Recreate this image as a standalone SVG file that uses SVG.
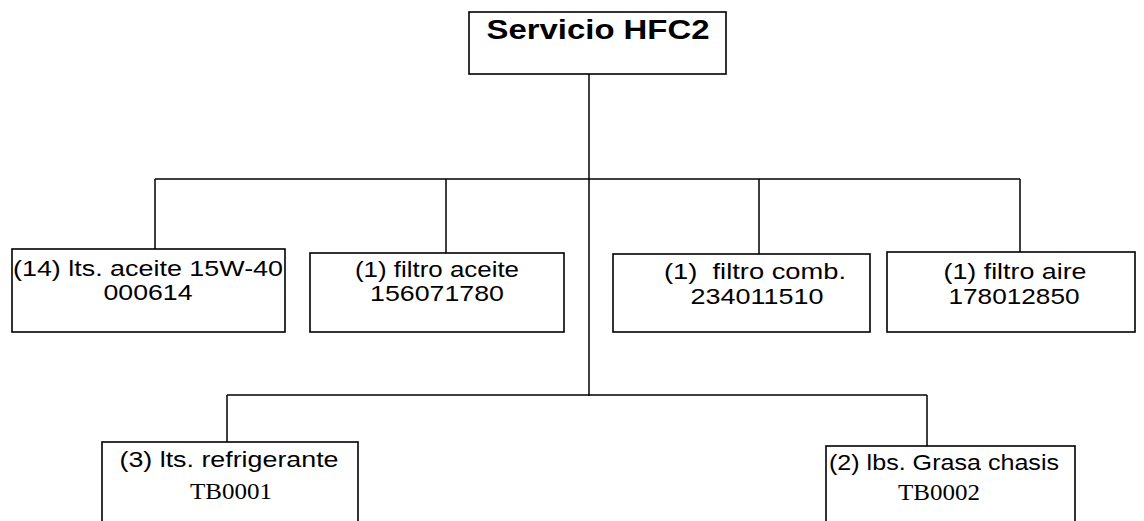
<svg xmlns="http://www.w3.org/2000/svg" width="1144" height="521" viewBox="0 0 1144 521">
<style>
.box{fill:#fff;stroke:#000;stroke-width:1.6}
.ln{stroke:#000;stroke-width:1.5;fill:none}
.t{font-family:"Liberation Sans",Arial,sans-serif;font-size:22px;fill:#000;text-anchor:middle}
.s{font-family:"Liberation Serif","Times New Roman",serif;font-size:23px;fill:#000;text-anchor:middle}
.h{font-family:"Liberation Sans",Arial,sans-serif;font-size:28px;font-weight:bold;fill:#000;text-anchor:middle}
</style>
<rect width="1144" height="521" fill="#fff"/>
<g id="connectors">
<path class="ln" d="M589 74V396"/>
<path class="ln" d="M155 179H1020"/>
<path class="ln" d="M155 179V249M446 179V253M759 179V254M1020 179V252"/>
<path class="ln" d="M227 395H927"/>
<path class="ln" d="M227 395V442M927 395V446"/>
</g>
<g id="root">
<rect class="box" x="469" y="12" width="257" height="62"/>
<text class="h" x="598" y="39" textLength="223" lengthAdjust="spacingAndGlyphs">Servicio HFC2</text>
</g>
<g id="n1">
<rect class="box" x="12" y="249" width="273" height="83"/>
<text class="t" x="148" y="276" textLength="270" lengthAdjust="spacingAndGlyphs">(14) lts. aceite 15W-40</text>
<text class="t" x="148" y="300" textLength="89" lengthAdjust="spacingAndGlyphs">000614</text>
</g>
<g id="n2">
<rect class="box" x="310" y="253" width="254" height="79"/>
<text class="t" x="437" y="277" textLength="164" lengthAdjust="spacingAndGlyphs">(1) filtro aceite</text>
<text class="t" x="437" y="301" textLength="134" lengthAdjust="spacingAndGlyphs">156071780</text>
</g>
<g id="n3">
<rect class="box" x="613" y="254" width="257" height="78"/>
<text class="t" x="755" y="279" textLength="182" lengthAdjust="spacingAndGlyphs" xml:space="preserve">(1)  filtro comb.</text>
<text class="t" x="757" y="304" textLength="133" lengthAdjust="spacingAndGlyphs">234011510</text>
</g>
<g id="n4">
<rect class="box" x="887" y="252" width="248" height="80"/>
<text class="t" x="1015" y="279" textLength="143" lengthAdjust="spacingAndGlyphs">(1) filtro aire</text>
<text class="t" x="1014" y="304" textLength="131" lengthAdjust="spacingAndGlyphs">178012850</text>
</g>
<g id="n5">
<rect class="box" x="102" y="442" width="256" height="95"/>
<text class="t" x="229" y="467" textLength="219" lengthAdjust="spacingAndGlyphs">(3) lts. refrigerante</text>
<text class="s" x="231" y="499" textLength="82" lengthAdjust="spacingAndGlyphs">TB0001</text>
</g>
<g id="n6">
<rect class="box" x="826" y="446" width="249" height="95"/>
<text class="t" x="944" y="470" textLength="230" lengthAdjust="spacingAndGlyphs">(2) lbs. Grasa chasis</text>
<text class="s" x="939" y="500" textLength="82" lengthAdjust="spacingAndGlyphs">TB0002</text>
</g>
</svg>
